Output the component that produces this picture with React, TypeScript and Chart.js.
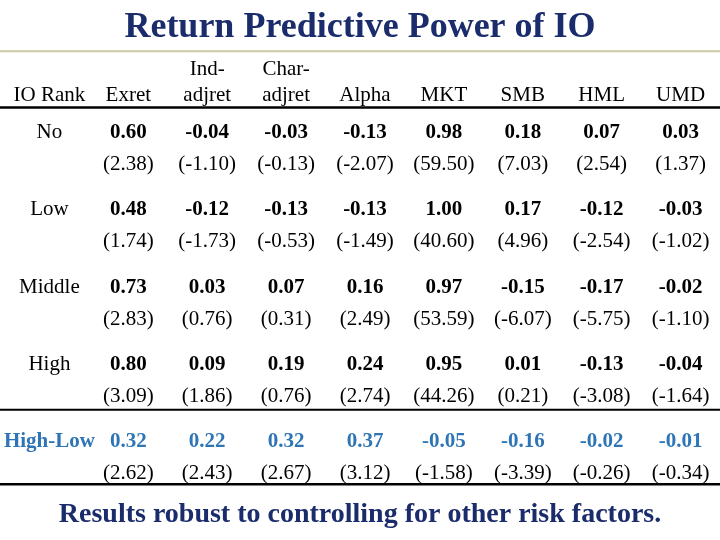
import React, { useEffect, useRef } from "react";
import { Chart, registerables } from "chart.js";

Chart.register(...registerables);

// ---- Data ----
const titleText = "Return Predictive Power of IO";
const footerText = "Results robust to controlling for other risk factors.";
const columnHeaders: (string | string[])[] = [
  "IO Rank",
  "Exret",
  ["Ind-", "adjret"],
  ["Char-", "adjret"],
  "Alpha",
  "MKT",
  "SMB",
  "HML",
  "UMD",
];
const ioRanks = ["No", "Low", "Middle", "High", "High-Low"];

const noCoef = [0.6, -0.04, -0.03, -0.13, 0.98, 0.18, 0.07, 0.03];
const noT = [2.38, -1.1, -0.13, -2.07, 59.5, 7.03, 2.54, 1.37];
const lowCoef = [0.48, -0.12, -0.13, -0.13, 1.0, 0.17, -0.12, -0.03];
const lowT = [1.74, -1.73, -0.53, -1.49, 40.6, 4.96, -2.54, -1.02];
const middleCoef = [0.73, 0.03, 0.07, 0.16, 0.97, -0.15, -0.17, -0.02];
const middleT = [2.83, 0.76, 0.31, 2.49, 53.59, -6.07, -5.75, -1.1];
const highCoef = [0.8, 0.09, 0.19, 0.24, 0.95, 0.01, -0.13, -0.04];
const highT = [3.09, 1.86, 0.76, 2.74, 44.26, 0.21, -3.08, -1.64];
const highLowCoef = [0.32, 0.22, 0.32, 0.37, -0.05, -0.16, -0.02, -0.01];
const highLowT = [2.62, 2.43, 2.67, 3.12, -1.58, -3.39, -0.26, -0.34];

const rowCoefs = [noCoef, lowCoef, middleCoef, highCoef, highLowCoef];
const rowTs = [noT, lowT, middleT, highT, highLowT];

// ---- Styles ----
const SERIF = '"Liberation Serif", "Times New Roman", serif';
const NAVY = "#1a2c6b";
const BLUE = "#2e75b6";
const BLACK = "#000000";
const CELL_SIZE = 21;
const T_OFFSET = 32;

const tablePlugin = {
  id: "ioTable",
  beforeDraw(chart: any) {
    const { ctx, width, height } = chart;
    ctx.save();
    ctx.fillStyle = "#ffffff";
    ctx.fillRect(0, 0, width, height);
    ctx.restore();
  },
  afterDraw(chart: any) {
    const { ctx, chartArea, width } = chart;
    const xs = chart.scales.x;
    const ys = chart.scales.y;

    const rule = (y: number, lw: number, color: string) => {
      ctx.save();
      ctx.strokeStyle = color;
      ctx.lineWidth = lw;
      ctx.beginPath();
      ctx.moveTo(0, y);
      ctx.lineTo(width, y);
      ctx.stroke();
      ctx.restore();
    };

    const titleBottom = chart.titleBlock ? chart.titleBlock.bottom : 57;
    rule(titleBottom - 6, 2, "#c9c9a3");
    rule(chartArea.top, 2.5, BLACK);

    ctx.save();
    ctx.textAlign = "center";
    ctx.textBaseline = "middle";
    ioRanks.forEach((rank, i) => {
      const isDiff = i === ioRanks.length - 1;
      const yc = ys.getPixelForValue(i);
      const yt = yc + T_OFFSET;
      const color = isDiff ? BLUE : BLACK;

      ctx.fillStyle = color;
      ctx.font = `${isDiff ? "bold " : ""}${CELL_SIZE}px ${SERIF}`;
      ctx.fillText(rank, xs.getPixelForValue(0), yc);

      ctx.font = `bold ${CELL_SIZE}px ${SERIF}`;
      rowCoefs[i].forEach((v, j) => {
        ctx.fillText(v.toFixed(2), xs.getPixelForValue(j + 1), yc);
      });

      ctx.fillStyle = BLACK;
      ctx.font = `${CELL_SIZE}px ${SERIF}`;
      rowTs[i].forEach((v, j) => {
        ctx.fillText(`(${v.toFixed(2)})`, xs.getPixelForValue(j + 1), yt);
      });
    });
    ctx.restore();

    const last = ys.getPixelForValue(ioRanks.length - 1);
    rule(last - 32, 2, BLACK);
    rule(last + 42.5, 2.5, BLACK);
  },
};

export default function App() {
  const ref = useRef<HTMLCanvasElement>(null);

  useEffect(() => {
    document.body.style.margin = "0";
    const canvas = ref.current;
    if (!canvas) return;
    const chart = new Chart(canvas, {
      type: "line",
      data: {
        labels: columnHeaders as any,
        datasets: [],
      },
      options: {
        animation: false,
        responsive: false,
        events: [],
        layout: { padding: 0 },
        plugins: {
          legend: { display: false },
          tooltip: { enabled: false },
          title: {
            display: true,
            text: titleText,
            color: NAVY,
            font: { family: SERIF, size: 36, weight: "bold", lineHeight: 1.2 },
            padding: { top: 6, bottom: 8 },
          },
          subtitle: {
            display: true,
            position: "bottom",
            text: footerText,
            color: NAVY,
            font: { family: SERIF, size: 28, weight: "bold", lineHeight: 1.2 },
            padding: { top: 0, bottom: 8 },
          },
        },
        scales: {
          x: {
            type: "category",
            position: "top",
            offset: true,
            grid: { display: false, drawTicks: false },
            border: { display: false },
            ticks: {
              padding: 0,
              maxRotation: 0,
              minRotation: 0,
              autoSkip: false,
              color: BLACK,
              font: { family: SERIF, size: 21, lineHeight: 1.2 },
            },
          },
          y: {
            type: "linear",
            reverse: true,
            min: -0.325,
            max: 4.734,
            display: true,
            grid: { display: false, drawTicks: false },
            border: { display: false },
            ticks: { display: false },
            afterFit: (scale: any) => {
              scale.width = 10;
            },
          },
        },
      } as any,
      plugins: [tablePlugin],
    });
    return () => chart.destroy();
  }, []);

  return (
    <div style={{ width: 720, height: 540 }}>
      <canvas ref={ref} width={720} height={540} style={{ display: "block" }} />
    </div>
  );
}
